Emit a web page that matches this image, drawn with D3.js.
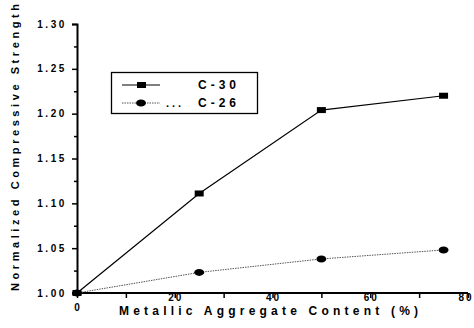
<!DOCTYPE html>
<html><head><meta charset="utf-8">
<script src="https://cdn.jsdelivr.net/npm/d3@7"></script>
<style>body{margin:0;background:#fff}svg{display:block}text{font-family:"Liberation Sans",Arial,sans-serif;fill:#000}</style>
</head><body><svg id="c" width="474" height="328"></svg>
<script>
const content = [0, 25, 50, 75];
const c30 = [1.000, 1.111, 1.204, 1.220];
const c26 = [1.000, 1.023, 1.038, 1.048];
const yTicks = [1.00, 1.05, 1.10, 1.15, 1.20, 1.25, 1.30];
const xTicks = [0, 20, 40, 60, 80];
const seriesNames = ["C-30", "C-26"];

const svg = d3.select("#c");
const x = d3.scaleLinear().domain([0, 80]).range([77, 468]);
const y = d3.scaleLinear().domain([1.0, 1.3]).range([293, 24]);

// axes
const yAxis = d3.axisLeft(y).tickValues(d3.range(1.0, 1.3001, 0.025)).tickSize(5).tickFormat("");
const gy = svg.append("g").attr("transform", `translate(${x(0)},0)`).call(yAxis);
gy.select(".domain").attr("stroke-width", 2);
gy.selectAll(".tick line").attr("stroke-width", 1.5).attr("x2", (d, i) => i % 2 === 0 ? -5 : -3);

const xAxis = d3.axisBottom(x).tickValues(d3.range(0, 80.01, 10)).tickSize(5).tickFormat("");
const gx = svg.append("g").attr("transform", `translate(0,${y(1.0)})`).call(xAxis);
gx.select(".domain").attr("stroke-width", 2).attr("d", `M${x(0)},0H${x(80)}`);
gx.selectAll(".tick line").attr("stroke-width", 1.5);

// tick labels
svg.append("g").selectAll("text").data(yTicks).join("text")
  .attr("x", 67).attr("y", d => y(d)).attr("dy", "0.35em")
  .attr("text-anchor", "end").attr("font-size", 10).attr("font-weight", "bold")
  .attr("letter-spacing", 2.6).text(d => d.toFixed(2));

svg.append("g").selectAll("text").data(xTicks).join("text")
  .attr("x", d => x(d) + (d === 80 ? -2 : 1)).attr("y", d => d === 0 ? 311 : 301)
  .attr("text-anchor", "middle").attr("font-size", 10).attr("font-weight", "bold")
  .attr("letter-spacing", 2).text(d => d);

// axis titles
svg.append("text").attr("x", 119).attr("y", 315).attr("font-size", 12).attr("font-weight", "bold")
  .attr("textLength", 299).attr("lengthAdjust", "spacing").text("Metallic Aggregate Content (%)");
svg.append("text").attr("transform", "translate(19,291) rotate(-90)")
  .attr("font-size", 11).attr("font-weight", "bold")
  .attr("textLength", 287).attr("lengthAdjust", "spacing").text("Normalized Compressive Strength");

// lines
const line = d3.line().x((d, i) => x(content[i])).y(d => y(d));
svg.append("path").datum(c26).attr("d", line).attr("fill", "none")
  .attr("stroke", "#555").attr("stroke-width", 1).attr("stroke-dasharray", "1.5,1");
svg.append("path").datum(c30).attr("d", line).attr("fill", "none")
  .attr("stroke", "#000").attr("stroke-width", 1.2);

// markers
svg.append("g").selectAll("rect").data(c30).join("rect")
  .attr("x", (d, i) => x(content[i]) - 4.5).attr("y", d => y(d) - 3)
  .attr("width", 9).attr("height", 6).attr("fill", "#000");
svg.append("g").selectAll("ellipse").data(c26).join("ellipse")
  .attr("cx", (d, i) => x(content[i])).attr("cy", d => y(d))
  .attr("rx", 5).attr("ry", 3.5).attr("fill", "#000");

// legend
const lg = svg.append("g");
lg.append("rect").attr("x", 111.5).attr("y", 72.5).attr("width", 146).attr("height", 41)
  .attr("fill", "#fff").attr("stroke", "#000").attr("stroke-width", 1.3);
lg.append("line").attr("x1", 122).attr("x2", 160).attr("y1", 85).attr("y2", 85).attr("stroke", "#000").attr("stroke-width", 1.2);
lg.append("rect").attr("x", 137).attr("y", 82).attr("width", 9).attr("height", 6).attr("fill", "#000");
lg.append("line").attr("x1", 122).attr("x2", 160).attr("y1", 103).attr("y2", 103).attr("stroke", "#555").attr("stroke-dasharray", "1.5,1");
lg.append("ellipse").attr("cx", 141).attr("cy", 103).attr("rx", 5).attr("ry", 3.5).attr("fill", "#000");
lg.append("text").attr("x", 166).attr("y", 107).attr("font-size", 11).attr("font-weight", "bold").attr("letter-spacing", 3).text("...");
lg.selectAll("text.s").data(seriesNames).join("text").attr("class", "s")
  .attr("x", 198).attr("y", (d, i) => i === 0 ? 89 : 107)
  .attr("font-size", 12).attr("font-weight", "bold").attr("letter-spacing", 4)
  .text(d => d);
</script></body></html>
